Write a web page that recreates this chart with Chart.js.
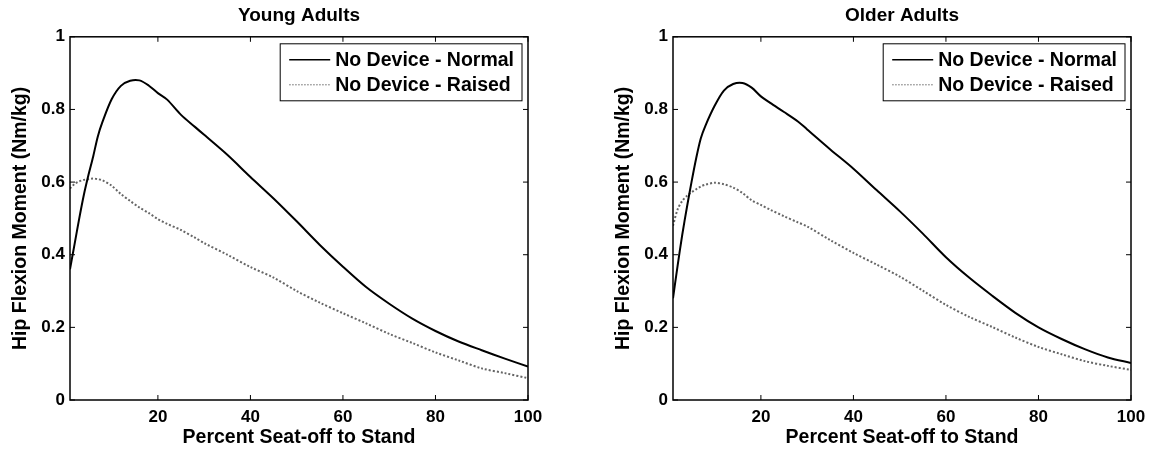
<!DOCTYPE html>
<html>
<head>
<meta charset="utf-8">
<script src="https://cdn.jsdelivr.net/npm/chart.js@4.4.1/dist/chart.umd.min.js"></script>
<style>
  body { margin: 0; background: #fff; }
  #wrap { position: relative; width: 1155px; height: 450px; }
  .panel { position: absolute; top: 0; height: 450px; }
</style>
</head>
<body>
<div id="wrap">
  <div class="panel" style="left:0;width:577px"><canvas id="young"></canvas></div>
  <div class="panel" style="left:577px;width:578px"><canvas id="older"></canvas></div>
</div>
<script>
// Datos (eje x: porcentaje de la tarea)
const percent = [1, 2, 3, 4, 5, 6, 7, 8, 10, 12, 14, 16, 18, 20, 22, 25, 28, 30, 35, 40, 45, 50, 55, 60, 65, 70, 75, 80, 85, 90, 95, 100];

const youngNormal = [0.36, 0.43, 0.50, 0.565, 0.62, 0.67, 0.725, 0.765, 0.828, 0.865, 0.879, 0.880, 0.866, 0.845, 0.827, 0.785, 0.752, 0.73, 0.675, 0.614, 0.555, 0.492, 0.427, 0.367, 0.311, 0.265, 0.224, 0.19, 0.161, 0.137, 0.114, 0.092];
const youngRaised = [0.582, 0.595, 0.602, 0.606, 0.608, 0.610, 0.608, 0.605, 0.59, 0.567, 0.548, 0.53, 0.515, 0.498, 0.485, 0.468, 0.447, 0.432, 0.40, 0.366, 0.337, 0.30, 0.268, 0.239, 0.211, 0.182, 0.157, 0.131, 0.109, 0.087, 0.074, 0.06];

const olderNormal = [0.28, 0.37, 0.455, 0.53, 0.60, 0.665, 0.72, 0.755, 0.81, 0.852, 0.870, 0.873, 0.86, 0.836, 0.818, 0.793, 0.767, 0.745, 0.69, 0.637, 0.578, 0.52, 0.458, 0.393, 0.337, 0.287, 0.240, 0.200, 0.168, 0.14, 0.117, 0.102];
const olderRaised = [0.48, 0.525, 0.548, 0.562, 0.572, 0.580, 0.588, 0.593, 0.598, 0.594, 0.585, 0.57, 0.55, 0.537, 0.524, 0.506, 0.489, 0.478, 0.44, 0.405, 0.373, 0.34, 0.301, 0.262, 0.229, 0.201, 0.172, 0.146, 0.126, 0.107, 0.094, 0.083];

const xTicks = [20, 40, 60, 80, 100];
const yTicks = [0, 0.2, 0.4, 0.6, 0.8, 1];
const seriesLabels = ['No Device - Normal', 'No Device - Raised'];

const FONT = '"Liberation Sans", Arial, sans-serif';

// Caja estilo MATLAB: borde, marcas hacia adentro y leyenda con marco
const matlabAxes = {
    id: 'matlabAxes',
    afterDatasetsDraw(chart) {
        const { ctx, chartArea: a, scales } = chart;
        ctx.save();
        ctx.strokeStyle = '#000';
        ctx.lineWidth = 1;
        ctx.beginPath();
        scales.x.ticks.forEach(t => {
            const px = scales.x.getPixelForValue(t.value);
            ctx.moveTo(px, a.bottom); ctx.lineTo(px, a.bottom - 5);
            ctx.moveTo(px, a.top); ctx.lineTo(px, a.top + 5);
        });
        scales.y.ticks.forEach(t => {
            const py = scales.y.getPixelForValue(t.value);
            ctx.moveTo(a.left, py); ctx.lineTo(a.left + 5, py);
            ctx.moveTo(a.right, py); ctx.lineTo(a.right - 5, py);
        });
        ctx.stroke();
        ctx.lineWidth = 1.5;
        ctx.strokeRect(a.left, a.top, a.right - a.left, a.bottom - a.top);

        // leyenda
        ctx.font = 'bold 19.5px ' + FONT;
        const ds = chart.data.datasets;
        const textW = Math.max(...ds.map(d => ctx.measureText(d.label).width));
        const w = 55 + textW + 8, h = 57;
        const left = a.right - 6 - w, top = a.top + 7;
        ctx.fillStyle = '#fff';
        ctx.fillRect(left, top, w, h);
        ctx.lineWidth = 1;
        ctx.strokeRect(left, top, w, h);
        ds.forEach((d, i) => {
            const cy = top + 16 + i * 25;
            ctx.beginPath();
            ctx.strokeStyle = d.borderColor;
            ctx.lineWidth = d.borderDash.length ? 1 : 1.6;
            ctx.setLineDash(d.borderDash.length ? [1.5, 1.5] : []);
            ctx.moveTo(left + 9, cy); ctx.lineTo(left + 50, cy);
            ctx.stroke();
            ctx.setLineDash([]);
            ctx.fillStyle = '#000';
            ctx.textBaseline = 'middle';
            ctx.fillText(d.label, left + 55, cy + 1);
        });
        ctx.restore();
    }
};

function makeChart(id, title, normal, raised, pad) {
    return new Chart(document.getElementById(id), {
        type: 'line',
        data: {
            datasets: [
                {
                    label: seriesLabels[0],
                    data: percent.map((x, i) => ({ x: x, y: normal[i] })),
                    borderColor: '#000',
                    borderWidth: 2,
                    borderDash: [],
                    pointRadius: 0,
                    tension: 0.3
                },
                {
                    label: seriesLabels[1],
                    data: percent.map((x, i) => ({ x: x, y: raised[i] })),
                    borderColor: '#666',
                    borderWidth: 2,
                    borderDash: [2, 2],
                    pointRadius: 0,
                    tension: 0.3
                }
            ]
        },
        options: {
            responsive: true,
            maintainAspectRatio: false,
            animation: false,
            layout: { padding: pad },
            plugins: {
                legend: { display: false },
                tooltip: { enabled: false },
                title: {
                    display: true,
                    text: title,
                    fullSize: false,
                    color: '#000',
                    font: { family: FONT, size: 19, weight: 'bold' },
                    padding: { top: 4, bottom: 10 }
                }
            },
            scales: {
                x: {
                    type: 'linear',
                    min: 1,
                    max: 100,
                    afterBuildTicks: s => { s.ticks = xTicks.map(v => ({ value: v })); },
                    afterFit: s => { s.height = 50; },
                    grid: { display: false, drawTicks: false },
                    border: { display: false },
                    ticks: { color: '#000', padding: 7, maxRotation: 0, font: { family: FONT, size: 17, weight: 'bold' } },
                    title: {
                        display: true,
                        text: 'Percent Seat-off to Stand',
                        color: '#000',
                        font: { family: FONT, size: 19.5, weight: 'bold' },
                        padding: { top: 0, bottom: 1 }
                    }
                },
                y: {
                    min: 0,
                    max: 1,
                    afterBuildTicks: s => { s.ticks = yTicks.map(v => ({ value: v })); },
                    afterFit: s => { s.width = 70; },
                    grid: { display: false, drawTicks: false },
                    border: { display: false },
                    ticks: {
                        color: '#000',
                        padding: 5,
                        font: { family: FONT, size: 17, weight: 'bold' },
                        callback: v => String(+v.toFixed(1))
                    },
                    title: {
                        display: true,
                        text: 'Hip Flexion Moment (Nm/kg)',
                        color: '#000',
                        font: { family: FONT, size: 19.5, weight: 'bold' },
                        padding: { top: 9, bottom: 0 }
                    }
                }
            }
        },
        plugins: [matlabAxes]
    });
}

makeChart('young', 'Young Adults', youngNormal, youngRaised, { left: 0, right: 49, top: 0, bottom: 0 });
makeChart('older', 'Older Adults', olderNormal, olderRaised, { left: 26, right: 24, top: 0, bottom: 0 });
</script>
</body>
</html>
